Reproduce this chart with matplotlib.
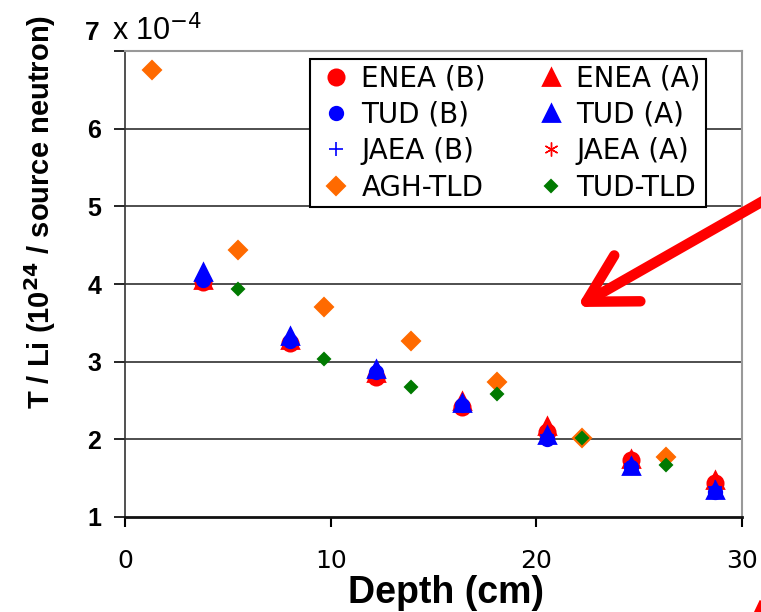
import matplotlib
matplotlib.use('Agg')
import matplotlib.pyplot as plt
from matplotlib.lines import Line2D

# depth positions of the activation foils (cm)
depth = [3.8, 8.0, 12.2, 16.4, 20.5, 24.6, 28.7]
enea_b = [4.02, 3.24, 2.80, 2.42, 2.10, 1.74, 1.44]
enea_a = [4.05, 3.28, 2.85, 2.50, 2.17, 1.75, 1.48]
tud_b = [4.05, 3.26, 2.87, 2.44, 2.00, 1.64, 1.32]
tud_a = [4.15, 3.33, 2.91, 2.47, 2.05, 1.66, 1.35]
jaea_b = [4.05, 3.27, 2.85, 2.45, 2.05, 1.68, 1.38]
jaea_a = [4.04, 3.25, 2.83, 2.44, 2.08, 1.70, 1.40]

# TLD detectors
agh_depth = [1.3, 5.5, 9.7, 13.9, 18.1, 22.2, 26.3]
agh_tld = [6.75, 4.44, 3.71, 3.26, 2.74, 2.02, 1.77]
tudtld_depth = [5.5, 9.7, 13.9, 18.1, 22.2, 26.3]
tud_tld = [3.93, 3.04, 2.67, 2.58, 2.02, 1.67]

xticks = [0, 10, 20, 30]
yticks = [1, 2, 3, 4, 5, 6, 7]
ytick_labels = ['1', '2', '3', '4', '5', '6', '']

fig = plt.figure(figsize=(7.61, 6.12), dpi=100)
ax = fig.add_axes([125/761, 1-517/612, 617/761, 466/612])

# grid lines behind the points
for y in [2, 3, 4, 5, 6]:
    ax.axhline(y, color='#404040', lw=1.3, zorder=1)

red = '#ff0000'
blue = '#0000ff'
orange = '#ff6a00'
green = '#007a00'

h1, = ax.plot(depth, enea_b, 'o', color=red, ms=11, mew=2, mec=red, zorder=3, label='ENEA (B)')
h5, = ax.plot(depth, enea_a, '^', color=red, ms=12, mew=2, mec=red, zorder=3, label='ENEA (A)')
h3, = ax.plot(depth, jaea_b, '+', color=blue, ms=10, mew=1.2, zorder=3.5, label='JAEA (B)')
h7, = ax.plot(depth, jaea_a, marker=(6, 2, 0), ls='none', color=red, ms=10, mew=1.0, zorder=3.5, label='JAEA (A)')
h2, = ax.plot(depth, tud_b, 'o', color=blue, ms=9, mew=2, mec=blue, zorder=4, label='TUD (B)')
h6, = ax.plot(depth, tud_a, '^', color=blue, ms=12, mew=2, mec=blue, zorder=4, label='TUD (A)')
h4, = ax.plot(agh_depth, agh_tld, 'D', color=orange, ms=9, mew=1.5, mec=orange, zorder=6, label='AGH-TLD')
h8, = ax.plot(tudtld_depth, tud_tld, 'D', color=green, ms=6, mew=1.5, mec=green, zorder=7, label='TUD-TLD')

ax.set_xlim(0, 30)
ax.set_ylim(1, 7)
ax.set_xticks(xticks)
ax.set_xticklabels([str(v) for v in xticks], family='DejaVu Sans', fontsize=18)
ax.set_yticks(yticks)
ax.set_yticklabels(ytick_labels, family='Liberation Sans', fontweight='bold', fontsize=18)
ax.tick_params(axis='y', direction='out', length=8, width=1.2, pad=9)
ax.tick_params(axis='x', direction='out', length=7, width=1.5, pad=16)

for s in ['top', 'right']:
    ax.spines[s].set_color('#999999')
    ax.spines[s].set_linewidth(1.5)
ax.spines['left'].set_color('#333333')
ax.spines['left'].set_linewidth(1.2)
ax.spines['bottom'].set_color('#111111')
ax.spines['bottom'].set_linewidth(2)

ax.set_xlabel('Depth (cm)', family='Liberation Sans', fontweight='bold', fontsize=27)
ax.xaxis.set_label_coords(0.521, -0.124)
ax.set_ylabel('T / Li (10$^{\\mathbf{24}}$ / source neutron)', family='Liberation Sans',
              fontweight='bold', fontsize=21)
ax.yaxis.set_label_coords(-0.108, 0.655)

# exponent label at top of the y axis
fig.text(100/761, 1-40/612, '7', family='Liberation Sans', fontweight='bold', fontsize=19,
         ha='right', va='baseline')
fig.text(112/761, 1-40/612, 'x 10$^{-4}$', family='Liberation Sans', fontsize=22,
         ha='left', va='baseline')

leg = ax.legend(handles=[h1, h2, h3, h4, h5, h6, h7, h8], ncol=2,
                loc='upper left', bbox_to_anchor=(310/761, 1-59/612),
                bbox_transform=fig.transFigure, borderaxespad=0,
                prop={'family': 'DejaVu Sans', 'size': 20},
                fancybox=False, framealpha=1, edgecolor='black',
                labelspacing=0.3, handlelength=1.5, handletextpad=0.15,
                columnspacing=1.6, borderpad=0.2)
leg.get_frame().set_linewidth(1.5)
leg.set_zorder(10)

# red pointer arrow drawn on top of the chart
ax.annotate('', xy=(577, 305), xycoords='figure pixels',
            xytext=(800, 432), textcoords='figure pixels',
            arrowprops=dict(arrowstyle='->,head_length=1.7,head_width=0.95',
                            color=red, lw=7.5, mutation_scale=20,
                            capstyle='round', joinstyle='round', shrinkA=0, shrinkB=0),
            annotation_clip=False, zorder=12)
fig.add_artist(Line2D([757/761, 777/761], [-5/612, 37/612], transform=fig.transFigure,
                      color=red, lw=7))

fig.savefig('out.png', dpi=100)
